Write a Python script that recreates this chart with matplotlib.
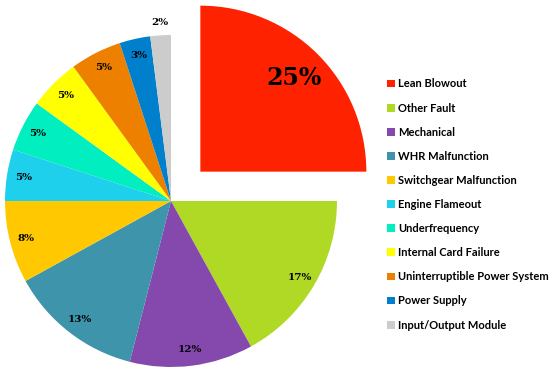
import numpy as np
import matplotlib
matplotlib.use("Agg")
import matplotlib.pyplot as plt
from matplotlib.patches import Patch

causas = ["Lean Blowout", "Other Fault", "Mechanical", "WHR Malfunction",
          "Switchgear Malfunction", "Engine Flameout", "Underfrequency",
          "Internal Card Failure", "Uninterruptible Power System",
          "Power Supply", "Input/Output Module"]
porcentajes = [25, 17, 12, 13, 8, 5, 5, 5, 5, 3, 2]
colores = ["#ff2200", "#b0d926", "#8549ae", "#3e94aa", "#ffc800", "#1ed0ec",
           "#00eec0", "#ffff00", "#ee8000", "#0080cc", "#cccccc"]

fig = plt.figure(figsize=(5.5, 3.72), dpi=100)
ax = fig.add_axes([0, 0, 1, 1])

R = 166
centro = (171, 171)
# en pie() el explode va en unidades de datos
explode = [0.25 * R] + [0] * (len(porcentajes) - 1)
wedges, textos = ax.pie(porcentajes, colors=colores, startangle=90, counterclock=False,
                        explode=explode, radius=R, center=centro, frame=True,
                        wedgeprops=dict(linewidth=0))
ax.set_xlim(0, 550)
ax.set_ylim(0, 372)
ax.axis("off")

# etiquetas segun el angulo de cada cuña
for i, (w, p) in enumerate(zip(wedges, porcentajes)):
    ang = np.deg2rad((w.theta1 + w.theta2) / 2)
    cx, cy = w.center
    d = 0.9
    fs = 7.5
    if i == 0:
        d, fs = 0.8, 17
    elif i == len(porcentajes) - 1:
        d = 1.08
    ax.text(cx + d * R * np.cos(ang), cy + d * R * np.sin(ang), f"{p}%",
            ha="center", va="center", fontsize=fs, fontweight="bold",
            family="DejaVu Serif", color="black")

handles = [Patch(facecolor=c, edgecolor="none") for c in colores]
fig.legend(handles, causas, loc="upper left", bbox_to_anchor=(0.686, 0.816),
           frameon=False, handlelength=0.7, handleheight=0.7, handletextpad=0.3,
           labelspacing=1.18, prop=dict(family="Lato", weight="bold", size=8))

plt.savefig("out.png", dpi=100)
print("[+] Guardada: out.png")
